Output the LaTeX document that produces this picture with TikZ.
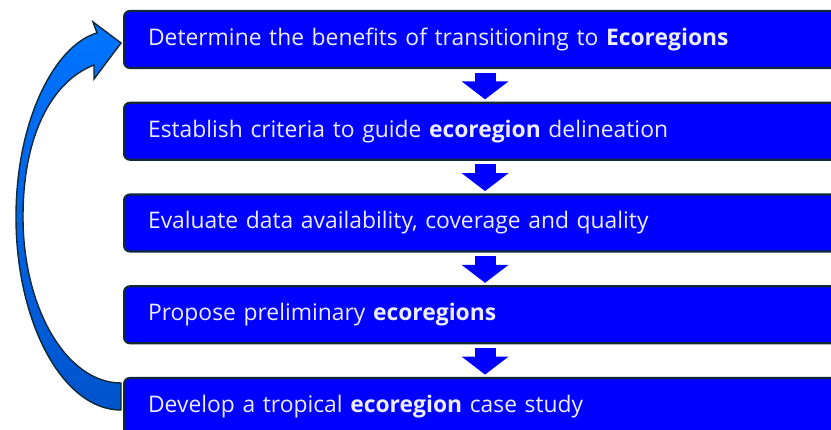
\documentclass[tikz,border=0pt]{standalone}
\usepackage{fontspec}
\setmainfont{Open Sans}
\usepackage{tikz}
\usetikzlibrary{arrows.meta}
\usetikzlibrary{shapes}
\definecolor{stepblue}{RGB}{0,0,255}
\definecolor{stepedge}{RGB}{16,40,56}
\definecolor{steptext}{RGB}{236,236,255}
\definecolor{looptop}{RGB}{0,116,255}
\definecolor{loopbottom}{RGB}{0,84,204}
\tikzset{
  stepbox/.style={draw=stepedge, line width=1.8pt, fill=stepblue, rounded corners=5pt,
    anchor=west, text width=20.22cm, inner xsep=0.72cm, minimum height=1.71cm,
    align=left, text=steptext, font=\fontsize{19.5}{22}\selectfont},
  downarrow/.style={draw=stepblue, line width=0.63cm,
    -{Triangle[length=0.54cm, width=1.38cm]}, shorten <=3pt, shorten >=2pt}
}

\begin{document}
\begin{tikzpicture}[x=0.03cm, y=-0.03cm]
        \useasboundingbox (0, 0) rectangle (831, 430);
        \node[stepbox] (b1) at (123, 39.5) {Determine the benefits of transitioning to \textbf{Ecoregions}};
        \node[stepbox] (b2) at (123, 131.25) {Establish criteria to guide \textbf{ecoregion} delineation};
        \node[stepbox] (b3) at (123, 223) {Evaluate data availability, coverage and quality};
        \node[stepbox] (b4) at (123, 314.75) {Propose preliminary \textbf{ecoregions}};
        \node[stepbox] (b5) at (123, 406.5) {Develop a tropical \textbf{ecoregion} case study};
        \draw[downarrow] (b1.south) -- (b2.north);
        \draw[downarrow] (b2.south) -- (b3.north);
        \draw[downarrow] (b3.south) -- (b4.north);
        \draw[downarrow] (b4.south) -- (b5.north);
        % curved arrow back to the top
        \draw[draw=stepedge, line width=1.2pt, line join=miter, top color=looptop, bottom color=loopbottom]
          (121, 410) .. controls (63, 410) and (16, 323) .. (16, 217)
          .. controls (16, 120) and (55, 45) .. (97, 33)
          -- (93, 22) -- (121, 43) -- (94, 79) -- (94, 65)
          .. controls (55, 80) and (23, 130) .. (23, 217)
          .. controls (23, 309) and (67, 383) .. (121, 383) -- cycle;
\end{tikzpicture}
\end{document}
